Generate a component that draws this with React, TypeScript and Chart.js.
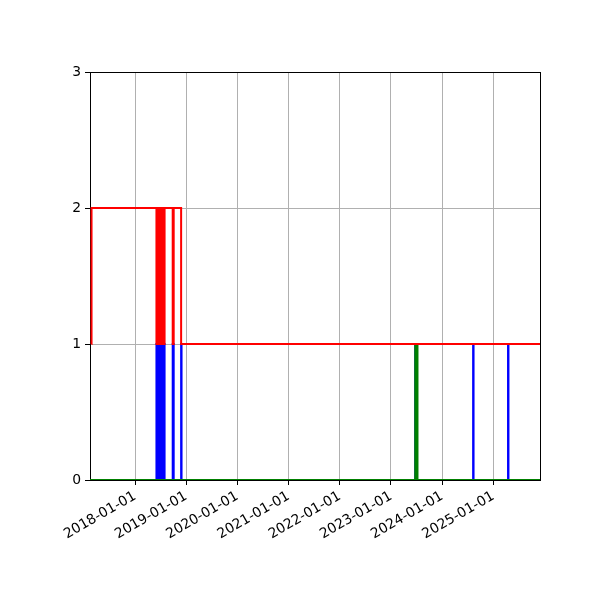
import React, { useEffect, useRef } from "react";
import { Chart, registerables } from "chart.js";

Chart.register(...registerables);

const xStart = "2017-02-14";
const xEnd = "2025-11-29";
const tickDates = [
  "2018-01-01",
  "2019-01-01",
  "2020-01-01",
  "2021-01-01",
  "2022-01-01",
  "2023-01-01",
  "2024-01-01",
  "2025-01-01",
];
const yTicks = [0, 1, 2, 3];

const redDates = [
  "2017-02-24", "2017-02-25",
  "2018-06-03", "2018-06-07", "2018-06-10", "2018-06-14", "2018-06-18",
  "2018-06-22", "2018-06-26", "2018-06-30", "2018-07-04", "2018-07-08",
  "2018-07-12", "2018-07-16", "2018-07-20", "2018-07-24", "2018-07-27",
  "2018-07-31",
  "2018-09-27", "2018-10-04",
  "2018-11-26",
  "2025-11-29",
];
const redValues = [
  1, 2,
  1, 2, 1, 2, 1,
  2, 1, 2, 1, 2,
  1, 2, 1, 2, 1,
  2,
  1, 2,
  1,
  1,
];

const blueDates = [
  "2017-02-14",
  "2018-06-03", "2018-06-07", "2018-06-10", "2018-06-14", "2018-06-18",
  "2018-06-22", "2018-06-26", "2018-06-30", "2018-07-04", "2018-07-08",
  "2018-07-12", "2018-07-16", "2018-07-20", "2018-07-24", "2018-07-27",
  "2018-07-31",
  "2018-09-27", "2018-10-04",
  "2018-11-26", "2018-11-29",
  "2023-06-23", "2023-06-25",
  "2024-08-09", "2024-08-12",
  "2025-04-15", "2025-04-18",
  "2025-11-29",
];
const blueValues = [
  0,
  1, 0, 1, 0, 1,
  0, 1, 0, 1, 0,
  1, 0, 1, 0, 1,
  0,
  1, 0,
  1, 0,
  1, 0,
  1, 0,
  1, 0,
  0,
];

const greenDates = [
  "2017-02-14",
  "2023-06-23", "2023-06-26", "2023-06-28", "2023-07-01",
  "2023-07-03", "2023-07-06", "2023-07-07", "2023-07-09",
  "2025-11-29",
];
const greenValues = [0, 1, 0, 1, 0, 1, 0, 1, 0, 0];

const timeOf = (s: string) => Date.parse(s + "T00:00:00Z");
const toPoints = (dates: string[], values: number[]) =>
  dates.map((d, i) => ({ x: timeOf(d), y: values[i] }));

const fmtDate = (v: number) => new Date(v).toISOString().slice(0, 10);

// box round the plot, drawn under the lines
const framePlugin = {
  id: "frame",
  beforeDatasetsDraw(chart: any) {
    const { ctx, chartArea } = chart;
    ctx.save();
    ctx.strokeStyle = "#000";
    ctx.lineWidth = 1;
    ctx.strokeRect(
      Math.round(chartArea.left) + 0.5,
      Math.round(chartArea.top) + 0.5,
      Math.round(chartArea.right - chartArea.left),
      Math.round(chartArea.bottom - chartArea.top)
    );
    ctx.restore();
  },
};

export default function App() {
  const canvasRef = useRef<HTMLCanvasElement | null>(null);
  const chartRef = useRef<Chart | null>(null);

  useEffect(() => {
    if (!canvasRef.current) return;
    const font = { family: "'DejaVu Sans', sans-serif", size: 13.9 };
    chartRef.current = new Chart(canvasRef.current, {
      type: "line",
      data: {
        datasets: [
          {
            label: "red",
            data: toPoints(redDates, redValues),
            borderColor: "#ff0000",
            borderWidth: 2,
            pointRadius: 0,
            stepped: "before",
            order: 0,
          },
          {
            label: "green",
            data: toPoints(greenDates, greenValues),
            borderColor: "#008000",
            borderWidth: 2,
            pointRadius: 0,
            stepped: "before",
            order: 1,
          },
          {
            label: "blue",
            data: toPoints(blueDates, blueValues),
            borderColor: "#0000ff",
            borderWidth: 2,
            pointRadius: 0,
            stepped: "before",
            order: 2,
          },
        ],
      },
      options: {
        responsive: false,
        animation: false,
        layout: { padding: { left: 0, top: 72, right: 60, bottom: 0 } },
        plugins: { legend: { display: false }, tooltip: { enabled: false } },
        scales: {
          x: {
            type: "linear",
            min: timeOf(xStart),
            max: timeOf(xEnd),
            afterBuildTicks: (axis: any) => {
              axis.ticks = tickDates.map((d) => ({ value: timeOf(d) }));
            },
            afterFit: (axis: any) => {
              axis.height = 120;
            },
            grid: {
              color: "#b0b0b0",
              lineWidth: 1,
              tickColor: "#000",
              tickLength: 5,
            },
            border: { color: "#000", width: 1 },
            ticks: {
              color: "#000",
              font,
              minRotation: 30,
              maxRotation: 30,
              padding: 3,
              autoSkip: false,
              callback: (v: any) => fmtDate(Number(v)),
            },
          },
          y: {
            min: 0,
            max: 3,
            afterBuildTicks: (axis: any) => {
              axis.ticks = yTicks.map((v) => ({ value: v }));
            },
            afterFit: (axis: any) => {
              axis.width = 90;
            },
            grid: {
              color: "#b0b0b0",
              lineWidth: 1,
              tickColor: "#000",
              tickLength: 5,
            },
            border: { color: "#000", width: 1 },
            ticks: { color: "#000", font, padding: 4 },
          },
        },
      },
      plugins: [framePlugin],
    });
    return () => {
      chartRef.current?.destroy();
      chartRef.current = null;
    };
  }, []);

  return (
    <div style={{ position: "fixed", left: 0, top: 0, width: 600, height: 600, background: "#fff" }}>
      <canvas ref={canvasRef} width={600} height={600} />
    </div>
  );
}
